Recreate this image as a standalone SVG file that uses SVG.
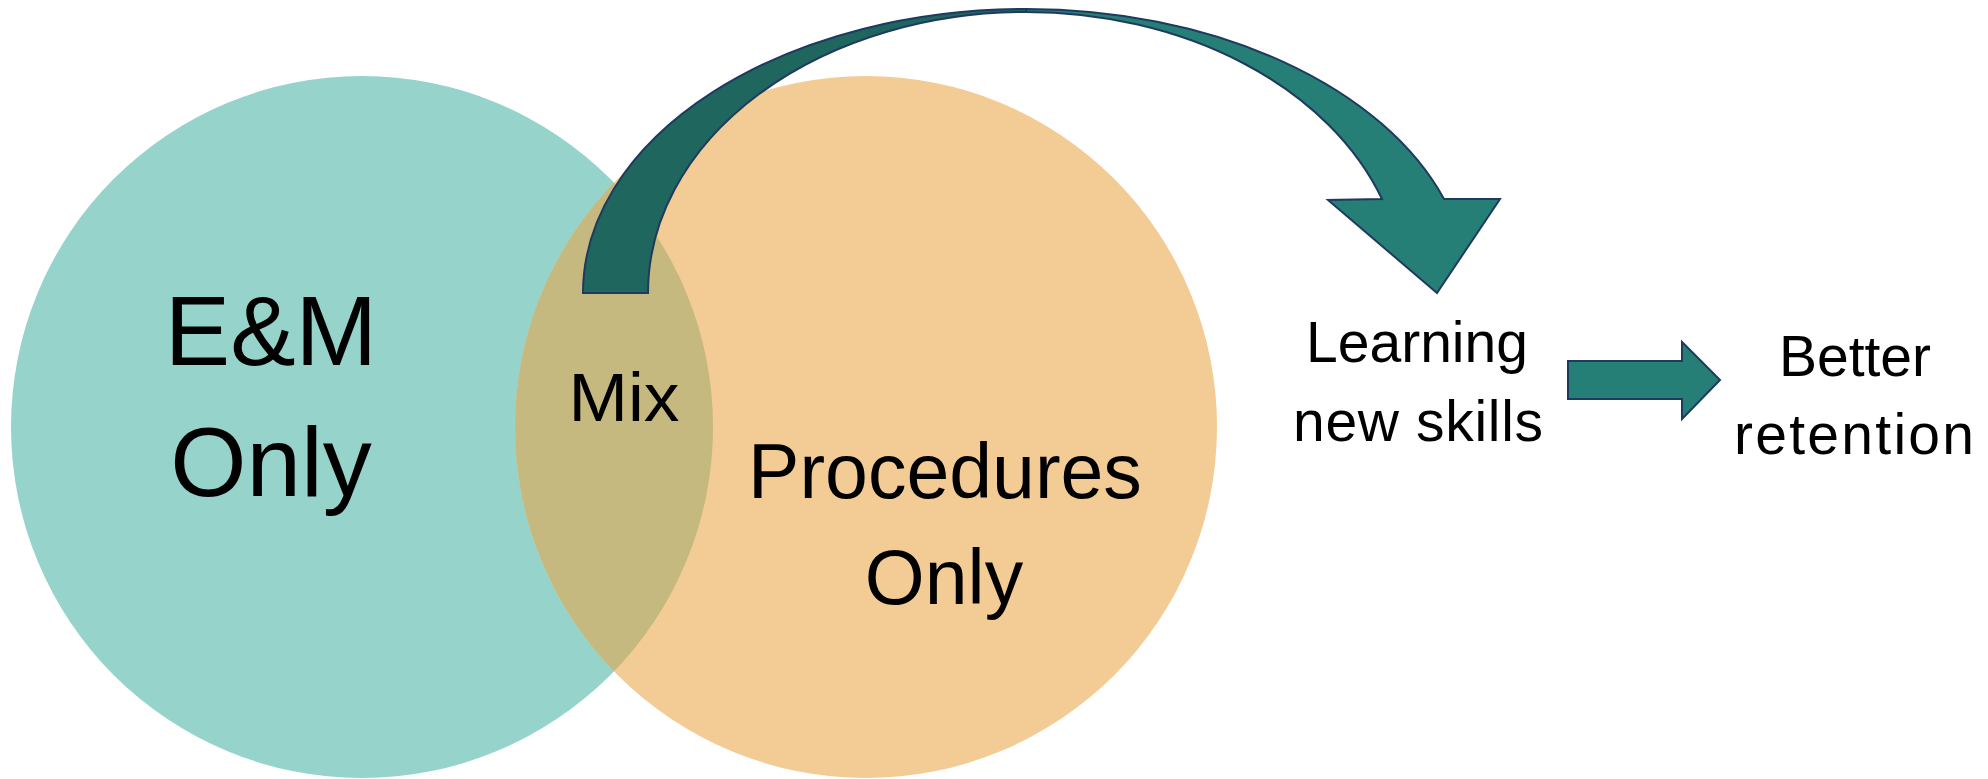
<svg xmlns="http://www.w3.org/2000/svg" width="1988" height="779" viewBox="0 0 1988 779">
  <style>
    .lbl { font-family: "Liberation Sans", Arial, sans-serif; fill: #000000; text-anchor: middle; }
    .arrow { stroke: #1F3A5F; stroke-width: 2; stroke-linejoin: miter; }
    .dark { fill: #1F665F; }
    .light { fill: #267F76; }
  </style>
  <defs>
    <clipPath id="clipLeft">
      <circle cx="362" cy="427" r="351"/>
    </clipPath>
  </defs>
  <rect width="1988" height="779" fill="#FFFFFF"/>

  <g id="node-em">
    <circle cx="362" cy="427" r="351" fill="#95D3CB"/>
    <text class="lbl" x="271" y="365" font-size="98">E&amp;M</text>
    <text class="lbl" x="271" y="496" font-size="98">Only</text>
  </g>

  <g id="node-procedures">
    <circle cx="866" cy="427" r="351" fill="#F3CB94"/>
    <text class="lbl" x="945" y="498" font-size="77">Procedures</text>
    <text class="lbl" x="944" y="604" font-size="77">Only</text>
  </g>

  <g id="node-mix">
    <circle cx="866" cy="427" r="351" fill="#C5B97F" clip-path="url(#clipLeft)"/>
    <text class="lbl" x="624" y="421" font-size="68" textLength="111" lengthAdjust="spacingAndGlyphs">Mix</text>
  </g>

  <g id="connectors">
    <path class="arrow dark" d="M 583,293 A 443 284 0 0 1 1026,9 L 1026,12 A 378 281 0 0 0 648,293 Z"/>
    <path class="arrow light" d="M 1026,9 A 443 284 0 0 1 1444,199 L 1500,199 L 1437,293 L 1328,200 L 1382,199 A 378 281 0 0 0 1026,12 Z"/>
    <path class="arrow light" d="M 1568,361 L 1682,361 L 1682,342 L 1720,380 L 1682,419 L 1682,399 L 1568,399 Z"/>
  </g>

  <g id="node-learning">
    <text class="lbl" x="1417" y="362" font-size="57">Learning</text>
    <text class="lbl" x="1418" y="441" font-size="57" textLength="250" lengthAdjust="spacing">new skills</text>
  </g>

  <g id="node-better">
    <text class="lbl" x="1855" y="376" font-size="57">Better</text>
    <text class="lbl" x="1854" y="454" font-size="57" textLength="240" lengthAdjust="spacing">retention</text>
  </g>
</svg>
